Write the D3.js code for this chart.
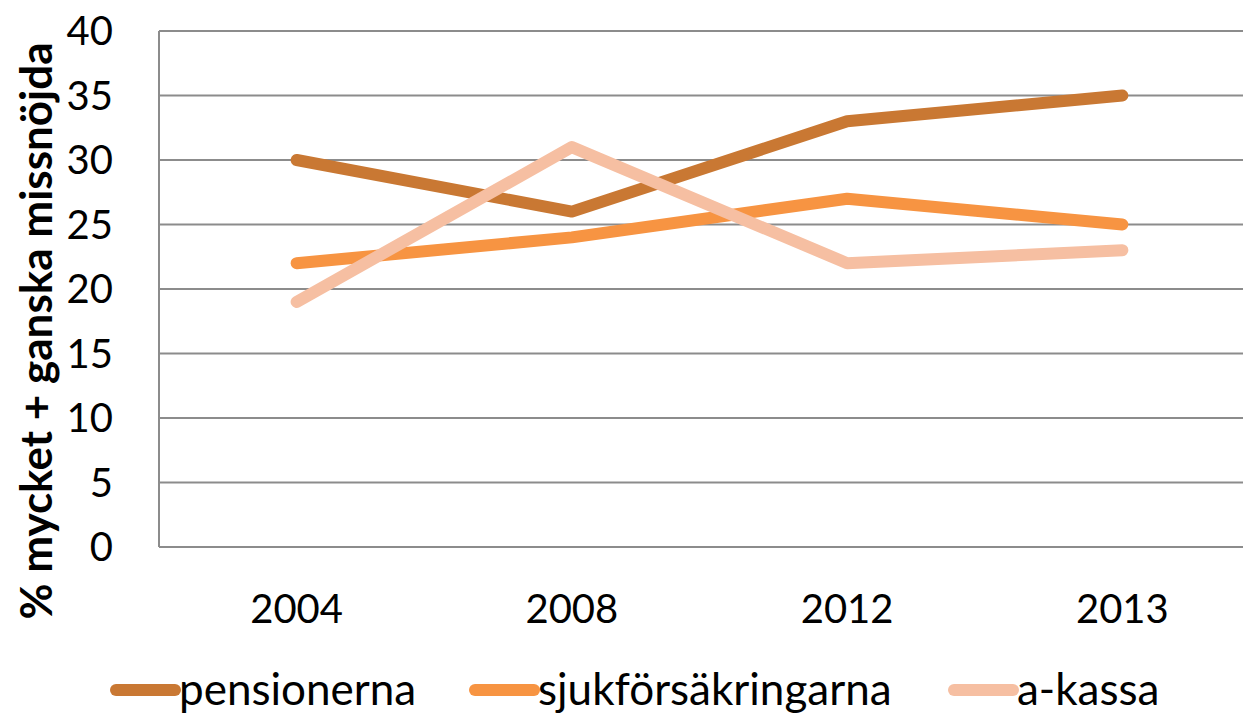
<!DOCTYPE html>
<html>
<head>
<meta charset="utf-8">
<script src="https://cdn.jsdelivr.net/npm/d3@7"></script>
<style>
  body { margin: 0; background: #fff; }
  text { font-family: Lato, "Open Sans", sans-serif; fill: #000; }
</style>
</head>
<body>
<svg id="chart" width="1243" height="713"></svg>
<script>
// chart data
const years = ["2004", "2008", "2012", "2013"];
const pensionerna = [30, 26, 33, 35];
const sjukforsakringarna = [22, 24, 27, 25];
const akassa = [19, 31, 22, 23];
const yTicks = [0, 5, 10, 15, 20, 25, 30, 35, 40];

const seriesNames = ["pensionerna", "sjukförsäkringarna", "a-kassa"];
const seriesColors = ["#C97833", "#F79442", "#F6BFA2"];
const seriesValues = [pensionerna, sjukforsakringarna, akassa];

const svg = d3.select("#chart");
const width = +svg.attr("width");
const height = +svg.attr("height");

// plot area (right side runs past the picture edge, as in the original)
const plotLeft = 159, plotRight = 1260, plotTop = 31, plotBottom = 547;

const x = d3.scalePoint().domain(years).range([plotLeft, plotRight]).padding(0.5);
const y = d3.scaleLinear().domain([0, 40]).range([plotBottom, plotTop]);

// gridlines
svg.append("g")
    .selectAll("line")
    .data(yTicks)
    .join("line")
    .attr("x1", plotLeft)
    .attr("x2", width)
    .attr("y1", d => y(d))
    .attr("y2", d => y(d))
    .style("stroke", "#8c8c8c")
    .style("stroke-width", 2);

// y axis line
svg.append("line")
    .attr("x1", plotLeft).attr("x2", plotLeft)
    .attr("y1", plotTop).attr("y2", plotBottom)
    .style("stroke", "#8c8c8c")
    .style("stroke-width", 2);

// y tick labels
svg.append("g")
    .selectAll("text")
    .data(yTicks)
    .join("text")
    .attr("x", 113)
    .attr("y", d => y(d))
    .attr("dy", "0.36em")
    .attr("text-anchor", "end")
    .style("font-size", "40px")
    .text(d => d);

// x tick labels
svg.append("g")
    .selectAll("text")
    .data(years)
    .join("text")
    .attr("x", d => x(d))
    .attr("y", 623)
    .attr("text-anchor", "middle")
    .style("font-size", "40px")
    .text(d => d);

// y-axis title, rotated
svg.append("text")
    .attr("transform", "translate(52," + 331 + ")rotate(-90)")
    .attr("text-anchor", "middle")
    .style("font-size", "44px")
    .style("font-weight", "bold")
    .text("% mycket + ganska missnöjda");

// lines
const line = d3.line()
    .x((d, i) => x(years[i]))
    .y(d => y(d));

seriesValues.forEach((vals, i) => {
    svg.append("path")
        .datum(vals)
        .attr("d", line)
        .style("fill", "none")
        .style("stroke", seriesColors[i])
        .style("stroke-width", 12)
        .style("stroke-linecap", "round")
        .style("stroke-linejoin", "round");
});

// legend
const legendX = [116, 475, 954];
seriesNames.forEach((name, i) => {
    svg.append("line")
        .attr("x1", legendX[i]).attr("x2", legendX[i] + 59)
        .attr("y1", 690).attr("y2", 690)
        .style("stroke", seriesColors[i])
        .style("stroke-width", 12)
        .style("stroke-linecap", "round");
    svg.append("text")
        .attr("x", legendX[i] + 63)
        .attr("y", 705)
        .style("font-size", "44px")
        .text(name);
});
</script>
</body>
</html>
